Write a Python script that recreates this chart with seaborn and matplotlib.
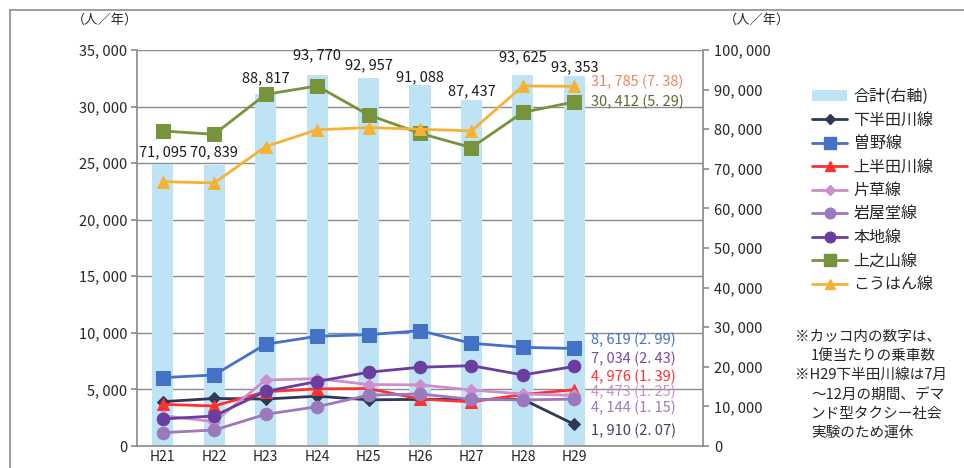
import numpy as np
import pandas as pd
import matplotlib
matplotlib.use("Agg")
import matplotlib.pyplot as plt
from matplotlib.lines import Line2D
from matplotlib.patches import Patch
import seaborn as sns

sns.set_theme(style="white")
plt.rcParams['font.family'] = ['Noto Sans CJK JP', 'DejaVu Sans']

# ---- data ----
years = ["H21", "H22", "H23", "H24", "H25", "H26", "H27", "H28", "H29"]
n_slots = 11  # two empty category slots on the right

total = [71095, 70839, 88817, 93770, 92957, 91088, 87437, 93625, 93353]

shimohandagawa = [3920, 4200, 4150, 4400, 4080, 4120, 4120, 4120, 1910]
sono = [6040, 6280, 8990, 9700, 9840, 10190, 9080, 8720, 8619]
kamihandagawa = [3680, 3540, 4800, 5050, 5080, 4150, 3900, 4550, 4976]
katakusa = [2680, 2150, 5830, 5960, 5430, 5400, 4950, 4600, 4473]
iwayado = [1180, 1410, 2800, 3470, 4500, 4600, 4120, 4070, 4144]
honji = [2390, 2650, 4830, 5700, 6520, 6960, 7100, 6280, 7034]
kaminoyama = [27840, 27550, 31080, 31820, 29260, 27640, 26370, 29490, 30412]
kouhan = [23360, 23250, 26460, 27950, 28140, 28000, 27850, 31820, 31785]

per_trip = {
    "下半田川線": 2.07, "曽野線": 2.99, "上半田川線": 1.39, "片草線": 1.25,
    "岩屋堂線": 1.15, "本地線": 2.43, "上之山線": 5.29, "こうはん線": 7.38,
}

series = {
    "下半田川線": shimohandagawa,
    "曽野線": sono,
    "上半田川線": kamihandagawa,
    "片草線": katakusa,
    "岩屋堂線": iwayado,
    "本地線": honji,
    "上之山線": kaminoyama,
    "こうはん線": kouhan,
}

# ---- styles ----
styles = {
    "下半田川線": dict(color="#2F3857", marker="D", ms=6),
    "曽野線": dict(color="#4472C4", marker="s", ms=10),
    "上半田川線": dict(color="#FF3030", marker="^", ms=8),
    "片草線": dict(color="#CC8FCC", marker="D", ms=6),
    "岩屋堂線": dict(color="#9C78BC", marker="o", ms=9),
    "本地線": dict(color="#6A3D9E", marker="o", ms=9),
    "上之山線": dict(color="#77933C", marker="s", ms=10),
    "こうはん線": dict(color="#F7B233", marker="^", ms=8),
}
end_label_color = {
    "下半田川線": "#3D4466", "曽野線": "#4472C4", "上半田川線": "#FF3030",
    "片草線": "#C98FCC", "岩屋堂線": "#9C78BC", "本地線": "#7A4AA8",
    "上之山線": "#5B6A30", "こうはん線": "#EE8560",
}
# vertical placement (left-axis units) of the end-of-line labels
end_label_y = {
    "こうはん線": 32150, "上之山線": 30400, "曽野線": 9370, "本地線": 7700,
    "上半田川線": 6130, "片草線": 4800, "岩屋堂線": 3360, "下半田川線": 1350,
}
total_label_dy = [12, 13, 16, 19, 13, 8, 8, 18, 9]  # pixels above bar tops

bar_color = "#BEE3F5"
grid_color = "#8C8C8C"
spine_color = "#8C8C8C"

def fmt(v):
    return f"{v:,}".replace(",", ", ")

fig = plt.figure(figsize=(9.64, 4.68), dpi=100)
ax2 = fig.add_axes([137 / 964, 1 - 446 / 468, (703 - 137) / 964, (446 - 50) / 468])
ax = ax2.twinx()
ax.yaxis.tick_left()
ax.yaxis.set_label_position("left")
ax2.yaxis.tick_right()
ax2.yaxis.set_label_position("right")
ax.set_zorder(ax2.get_zorder() + 1)
ax.patch.set_visible(False)

LEFT_MAX, RIGHT_MAX = 35000, 100000
idx = np.arange(len(years))

# gridlines for the left axis, drawn beneath the bars
for t in range(5000, LEFT_MAX + 1, 5000):
    ax2.axhline(t * RIGHT_MAX / LEFT_MAX, color=grid_color, lw=1.0, zorder=0)

bars_df = pd.DataFrame({"x": idx, "total": total})
sns.barplot(data=bars_df, x="x", y="total", native_scale=True, width=0.41,
            color=bar_color, saturation=1, ax=ax2, zorder=2, linewidth=0)

for i, v in enumerate(total):
    ax2.annotate(fmt(v), (i, v), xytext=(0, total_label_dy[i] * 0.72),
                 textcoords="offset points", ha="center", va="center",
                 fontsize=10.5, color="#1A1A1A")

for name, vals in series.items():
    st = styles[name]
    df = pd.DataFrame({"x": idx, "v": vals})
    sns.lineplot(data=df, x="x", y="v", ax=ax, color=st["color"], lw=2,
                 marker=st["marker"], markersize=st["ms"],
                 markeredgecolor=st["color"], markerfacecolor=st["color"],
                 zorder=3)
    label = f"{fmt(vals[-1])} ({per_trip[name]:.2f})".replace(".", ". ")
    ax.text(8.33, end_label_y[name], label,
            color=end_label_color[name], fontsize=10.5, va="center", ha="left")

ax.set_xlim(-0.5, n_slots - 0.5)
ax2.set_xlim(-0.5, n_slots - 0.5)
ax.set_ylim(0, LEFT_MAX)
ax2.set_ylim(0, RIGHT_MAX)

ax.set_yticks(range(0, LEFT_MAX + 1, 5000))
ax.set_yticklabels([fmt(t) for t in range(0, LEFT_MAX + 1, 5000)], fontsize=10.5)
ax2.set_yticks(range(0, RIGHT_MAX + 1, 10000))
ax2.set_yticklabels([fmt(t) for t in range(0, RIGHT_MAX + 1, 10000)], fontsize=10.5)

# category boundaries carry tick marks; labels sit at category centres
ax2.set_xticks(np.arange(-0.5, n_slots, 1.0))
ax2.set_xticklabels([])
ax2.set_xticks(idx, minor=True)
ax2.set_xticklabels(years, minor=True, fontsize=10)
ax2.tick_params(axis="x", which="major", length=4, color=spine_color, direction="out")
ax2.tick_params(axis="x", which="minor", length=0, pad=3)
ax.set_xticks([])

for a in (ax, ax2):
    a.set_xlabel("")
    a.set_ylabel("")
    for s in a.spines.values():
        s.set_visible(False)

ax.spines["left"].set_visible(True)
ax.spines["left"].set_color(spine_color)
ax2.spines["right"].set_visible(True)
ax2.spines["right"].set_color(spine_color)
ax2.spines["bottom"].set_visible(True)
ax2.spines["bottom"].set_color(spine_color)
ax.tick_params(axis="y", which="major", length=4, color=spine_color, direction="out", pad=3)
ax2.tick_params(axis="y", which="major", length=4, color=spine_color, direction="out", pad=4)

# units
fig.text(105 / 964, 1 - 20 / 468, "（人／年）", fontsize=9.5, ha="center", va="center")
fig.text(757 / 964, 1 - 20 / 468, "（人／年）", fontsize=9.5, ha="center", va="center")

# legend
handles = [Patch(facecolor=bar_color, edgecolor="none", label="合計(右軸)")]
for name in series:
    st = styles[name]
    handles.append(Line2D([], [], color=st["color"], lw=2, marker=st["marker"],
                          markersize=st["ms"] * 0.85, label=name))
fig.legend(handles=handles, loc="upper left", bbox_to_anchor=(812 / 964, 1 - 88 / 468),
           frameon=False, fontsize=11.5, handlelength=2.2, handletextpad=0.4,
           labelspacing=0.41, borderaxespad=0, borderpad=0)

notes = [
    (795, 337, "※カッコ内の数字は、"),
    (811, 356, "1便当たりの乗車数"),
    (795, 375, "※H29下半田川線は7月"),
    (811, 395, "～12月の期間、デマ"),
    (811, 414, "ンド型タクシー社会"),
    (811, 433, "実験のため運休"),
]
for x, y, s in notes:
    fig.text(x / 964, 1 - y / 468, s, fontsize=10.5, ha="left", va="center")

# outer frame
fig.add_artist(plt.Line2D([10 / 964, 10 / 964], [0, 1 - 9.5 / 468], transform=fig.transFigure,
                          color="#8C8C8C", lw=1.2))
fig.add_artist(plt.Line2D([10 / 964, 1], [1 - 9.5 / 468, 1 - 9.5 / 468], transform=fig.transFigure,
                          color="#8C8C8C", lw=1.2))

fig.savefig("out.png", dpi=100)
